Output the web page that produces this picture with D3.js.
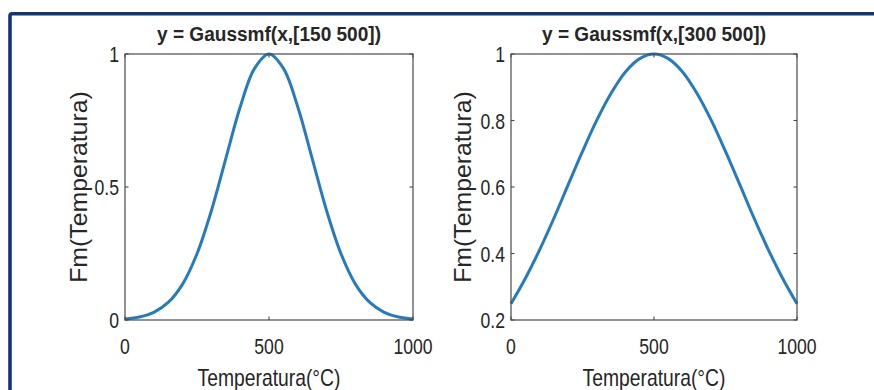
<!DOCTYPE html>
<html>
<head>
<meta charset="utf-8">
<script src="https://cdn.jsdelivr.net/npm/d3@7"></script>
<style>
  html, body { margin: 0; padding: 0; background: #fff; }
  svg { display: block; }
  text { font-family: "Liberation Sans", Arial, Helvetica, sans-serif; fill: #262626; }
</style>
</head>
<body>
<svg id="chart" width="874" height="390"></svg>
<script>
// Temperature samples (°C)
const temperatures = [0, 50, 100, 150, 200, 250, 300, 350, 400, 450, 500,
                      550, 600, 650, 700, 750, 800, 850, 900, 950, 1000];
// Membership degree, gaussmf with sigma 150, centre 500
const membershipNarrow = [0.004, 0.011, 0.029, 0.066, 0.135, 0.249, 0.411, 0.607, 0.801, 0.946, 1,
                          0.946, 0.801, 0.607, 0.411, 0.249, 0.135, 0.066, 0.029, 0.011, 0.004];
// Membership degree, gaussmf with sigma 300, centre 500
const membershipWide = [0.249, 0.325, 0.411, 0.506, 0.607, 0.707, 0.801, 0.882, 0.946, 0.986, 1,
                        0.986, 0.946, 0.882, 0.801, 0.707, 0.607, 0.506, 0.411, 0.325, 0.249];
const xTicks = [0, 500, 1000];
const yTicksNarrow = [0, 0.5, 1];
const yTicksWide = [0.2, 0.4, 0.6, 0.8, 1];
const titles = ["y = Gaussmf(x,[150 500])", "y = Gaussmf(x,[300 500])"];
const xLabel = "Temperatura(°C)";
const yLabel = "Fm(Temperatura)";

const svg = d3.select("#chart");

// outer frame
svg.append("rect")
  .attr("x", 10).attr("y", 13.7)
  .attr("width", 900).attr("height", 500)
  .attr("rx", 2)
  .attr("fill", "none")
  .attr("stroke", "#12357a")
  .attr("stroke-width", 3.6);

const panels = [
  { left: 125, right: 413, values: membershipNarrow, yDomain: [0, 1], yTicks: yTicksNarrow,
    yFmt: d => d === 0.5 ? "0.5" : String(d), title: titles[0], yLabelBase: 87 },
  { left: 511, right: 797, values: membershipWide, yDomain: [0.2, 1], yTicks: yTicksWide,
    yFmt: d => d === 1 ? "1" : d.toFixed(1), title: titles[1], yLabelBase: 471 }
];
const plotTop = 54, plotBottom = 320;
const tickLen = 3.5;
const axisColor = "#4a4a4a";

panels.forEach(p => {
  const x = d3.scaleLinear().domain([0, 1000]).range([p.left, p.right]);
  const y = d3.scaleLinear().domain(p.yDomain).range([plotBottom, plotTop]);
  const g = svg.append("g");

  // curve
  const line = d3.line()
    .x((d, i) => x(temperatures[i]))
    .y(d => y(d))
    .curve(d3.curveCatmullRom.alpha(0.5));
  g.append("path")
    .datum(p.values)
    .attr("d", line)
    .attr("fill", "none")
    .attr("stroke", "#267bbf")
    .attr("stroke-width", 3)
    .attr("stroke-linejoin", "round");

  // axes box
  g.append("rect")
    .attr("x", p.left).attr("y", plotTop)
    .attr("width", p.right - p.left).attr("height", plotBottom - plotTop)
    .attr("fill", "none").attr("stroke", axisColor).attr("stroke-width", 1.2);

  // inward ticks on all four sides
  const tg = g.append("g").attr("stroke", axisColor).attr("stroke-width", 1.1);
  xTicks.forEach(t => {
    tg.append("line").attr("x1", x(t)).attr("x2", x(t)).attr("y1", plotBottom).attr("y2", plotBottom - tickLen);
    tg.append("line").attr("x1", x(t)).attr("x2", x(t)).attr("y1", plotTop).attr("y2", plotTop + tickLen);
  });
  p.yTicks.forEach(t => {
    tg.append("line").attr("x1", p.left).attr("x2", p.left + tickLen).attr("y1", y(t)).attr("y2", y(t));
    tg.append("line").attr("x1", p.right).attr("x2", p.right - tickLen).attr("y1", y(t)).attr("y2", y(t));
  });

  // x tick labels
  xTicks.forEach(t => {
    g.append("text")
      .attr("transform", `translate(${x(t)},354) scale(0.8,1)`)
      .attr("text-anchor", "middle")
      .attr("font-size", 22)
      .text(t);
  });
  // y tick labels
  p.yTicks.forEach(t => {
    g.append("text")
      .attr("transform", `translate(${p.left - 6},${y(t) + 8}) scale(0.8,1)`)
      .attr("text-anchor", "end")
      .attr("font-size", 22)
      .text(p.yFmt(t));
  });

  // x axis label
  g.append("text")
    .attr("transform", `translate(${(p.left + p.right) / 2},386) scale(0.84,1)`)
    .attr("text-anchor", "middle")
    .attr("font-size", 23)
    .text(xLabel);

  // y axis label
  g.append("text")
    .attr("transform", `translate(${p.yLabelBase},${(plotTop + plotBottom) / 2}) rotate(-90) scale(1.08,1)`)
    .attr("text-anchor", "middle")
    .attr("font-size", 23)
    .text(yLabel);

  // title
  g.append("text")
    .attr("transform", `translate(${(p.left + p.right) / 2},41) scale(0.93,1)`)
    .attr("text-anchor", "middle")
    .attr("font-size", 20.5)
    .attr("font-weight", "bold")
    .attr("fill", "#000")
    .text(p.title);
});
</script>
</body>
</html>
